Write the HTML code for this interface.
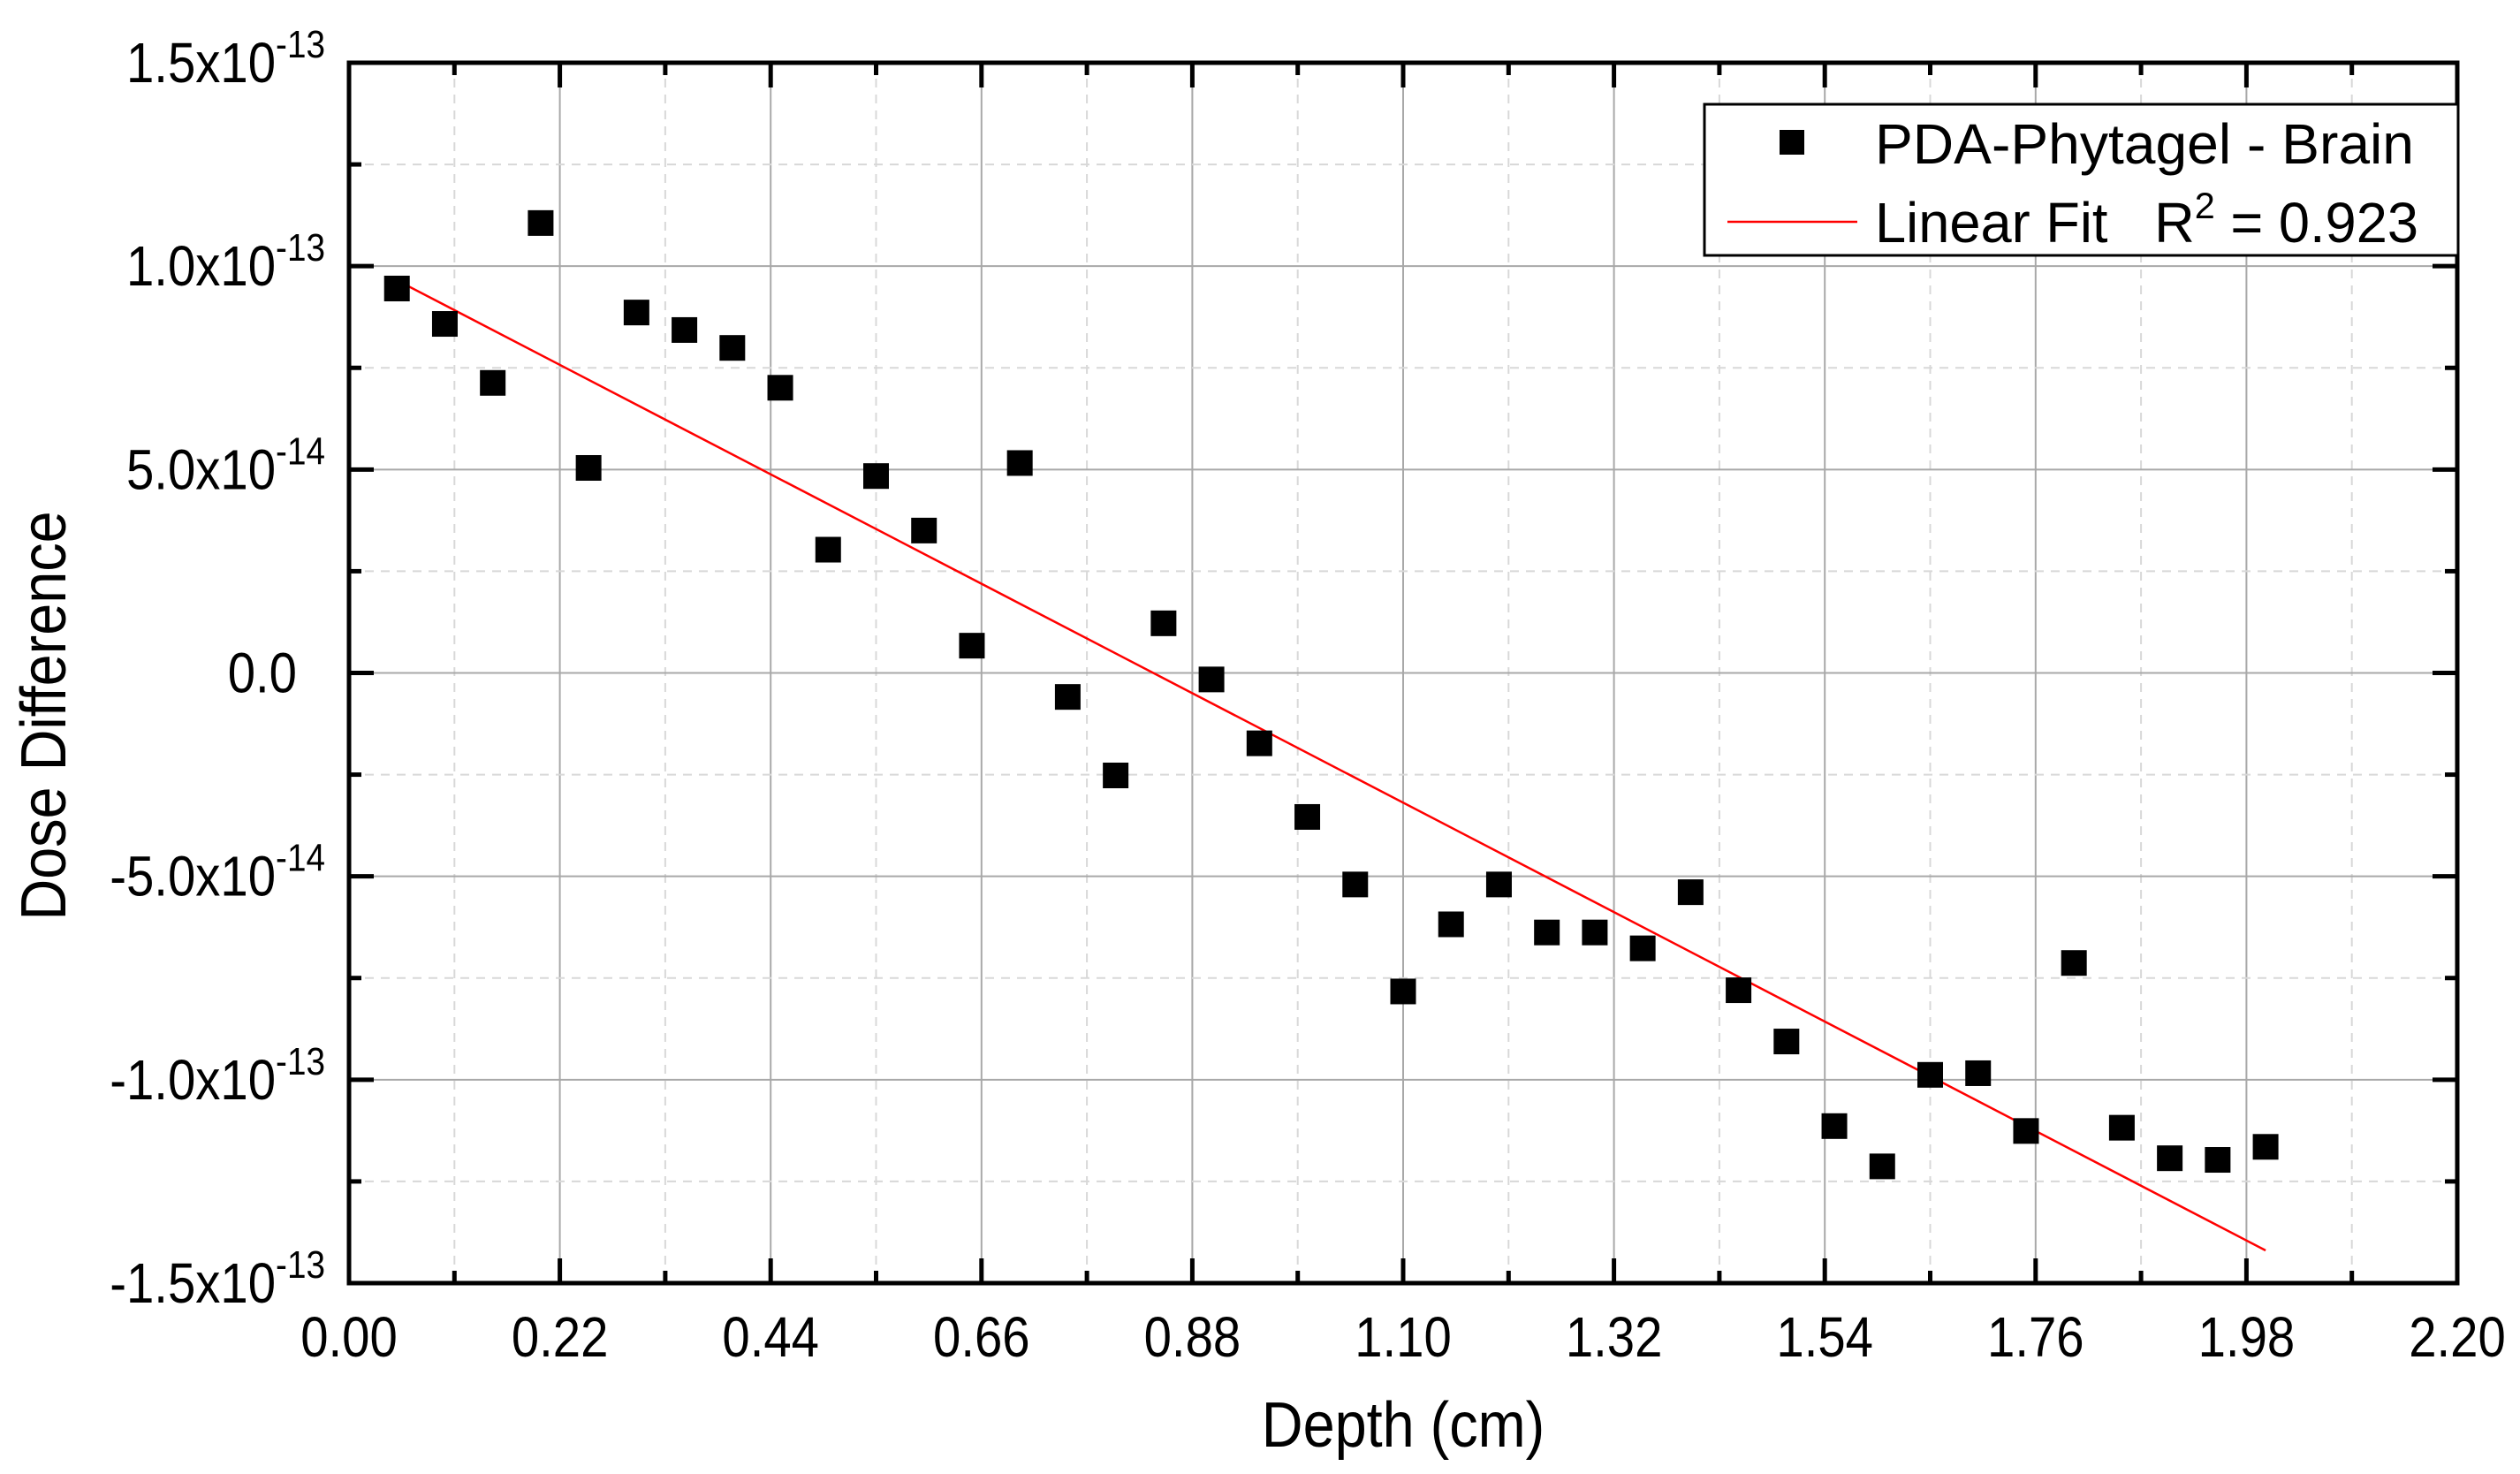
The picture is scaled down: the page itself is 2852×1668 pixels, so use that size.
<!DOCTYPE html>
<html><head><meta charset="utf-8"><style>
html,body{margin:0;padding:0;background:#fff;}
svg{display:block;font-family:"Liberation Sans",Arial,sans-serif;}
</style></head><body>
<svg id="chart" width="2852" height="1668" viewBox="0 0 2852 1668" xmlns="http://www.w3.org/2000/svg">
<rect x="0" y="0" width="2852" height="1668" fill="#fff"/>
<g id="grid"></g>
<g id="fit"></g>
<g id="pts"></g>
<g id="axes"></g>
<g id="labels"></g>
<text transform="translate(1588,1637) scale(0.9,1)" font-size="72" text-anchor="middle">Depth (cm)</text>
<text transform="translate(74,810) rotate(-90) scale(0.9,1)" font-size="72" text-anchor="middle">Dose Difference</text>
<g>
<rect x="1929" y="118" width="853" height="171" fill="#fff" stroke="#000" stroke-width="3"/>
<rect x="2014" y="147" width="28" height="28" fill="#000"/>
<text x="2122" y="185" font-size="64" textLength="610" lengthAdjust="spacingAndGlyphs">PDA-Phytagel - Brain</text>
<line x1="1955" y1="251" x2="2102" y2="251" stroke="#f00" stroke-width="2.5"/>
<text x="2122" y="274" font-size="64" textLength="615" lengthAdjust="spacingAndGlyphs">Linear Fit&#160;&#160;&#160;R<tspan font-size="42" dy="-27">2</tspan><tspan dy="27"> = 0.923</tspan></text>
</g>
</svg>
<script>
const depths=[0.05,0.10,0.15,0.20,0.25,0.30,0.35,0.40,0.45,0.50,0.55,0.60,0.65,0.70,0.75,0.80,0.85,0.90,0.95,1.00,1.05,1.10,1.15,1.20,1.25,1.30,1.35,1.40,1.45,1.50,1.55,1.60,1.65,1.70,1.75,1.80,1.85,1.90,1.95,2.00];
const doseDiff=[0.945,0.858,0.713,1.106,0.504,0.886,0.843,0.799,0.701,0.303,0.484,0.350,0.067,0.516,-0.059,-0.252,0.122,-0.016,-0.173,-0.354,-0.520,-0.783,-0.618,-0.520,-0.638,-0.638,-0.677,-0.539,-0.780,-0.906,-1.114,-1.213,-0.988,-0.984,-1.126,-0.713,-1.118,-1.193,-1.197,-1.165];
const xTicks=[0,0.22,0.44,0.66,0.88,1.10,1.32,1.54,1.76,1.98,2.20];
const xTickLabels=["0.00","0.22","0.44","0.66","0.88","1.10","1.32","1.54","1.76","1.98","2.20"];
const yTicks=[1.5,1.0,0.5,0,-0.5,-1.0,-1.5];
const yTickBase=["1.5x10","1.0x10","5.0x10","0.0","-5.0x10","-1.0x10","-1.5x10"];
const yTickExp=["-13","-13","-14","","-14","-13","-13"];

const L=395,R=2781,T=71,B=1452;
const xMin=0,xMax=2.2,yMin=-1.5,yMax=1.5;
const X=v=>L+(v-xMin)/(xMax-xMin)*(R-L);
const Y=v=>B-(v-yMin)/(yMax-yMin)*(B-T);
const NS="http://www.w3.org/2000/svg";
function mk(tag,parent,attrs){const e=document.createElementNS(NS,tag);for(const k in attrs)e.setAttribute(k,attrs[k]);parent.appendChild(e);return e;}
const grid=document.getElementById('grid'),axes=document.getElementById('axes'),labels=document.getElementById('labels'),pts=document.getElementById('pts'),fit=document.getElementById('fit');

for(let i=0;i<xTicks.length;i++){
  const x=X(xTicks[i]);
  if(i>0&&i<xTicks.length-1){const g=mk('line',grid,{x1:x,y1:T,x2:x,y2:B,stroke:'#a8a8a8','stroke-width':2});
  
  }
  if(i<xTicks.length-1){const xm=X((xTicks[i]+xTicks[i+1])/2);
    const g2=mk('line',grid,{x1:xm,y1:T,x2:xm,y2:B,stroke:'#d8d8d8','stroke-width':2,'stroke-dasharray':'10,8'});
    
    
    mk('line',axes,{x1:xm,y1:B,x2:xm,y2:B-14,stroke:'#000','stroke-width':5});
    mk('line',axes,{x1:xm,y1:T,x2:xm,y2:T+14,stroke:'#000','stroke-width':5});}
  mk('line',axes,{x1:x,y1:B,x2:x,y2:B-28,stroke:'#000','stroke-width':5});
  mk('line',axes,{x1:x,y1:T,x2:x,y2:T+28,stroke:'#000','stroke-width':5});
  const t=mk('text',labels,{transform:'translate('+x+',1535) scale(0.88,1)','font-size':64,'text-anchor':'middle'});
  
  
  t.textContent=xTickLabels[i];
}
for(let i=0;i<yTicks.length;i++){
  const y=Y(yTicks[i]);
  if(i>0&&i<yTicks.length-1){const g=mk('line',grid,{x1:L,y1:y,x2:R,y2:y,stroke:'#a8a8a8','stroke-width':2});
  
  }
  if(i<yTicks.length-1){const ym=Y((yTicks[i]+yTicks[i+1])/2);
    const g2=mk('line',grid,{x1:L,y1:ym,x2:R,y2:ym,stroke:'#d8d8d8','stroke-width':2,'stroke-dasharray':'10,8'});
    
    
    mk('line',axes,{x1:L,y1:ym,x2:L+14,y2:ym,stroke:'#000','stroke-width':5});
    mk('line',axes,{x1:R,y1:ym,x2:R-14,y2:ym,stroke:'#000','stroke-width':5});}
  mk('line',axes,{x1:L,y1:y,x2:L+28,y2:y,stroke:'#000','stroke-width':5});
  mk('line',axes,{x1:R,y1:y,x2:R-28,y2:y,stroke:'#000','stroke-width':5});
  const ax=yTickExp[i]?368:336;
  const t=mk('text',labels,{transform:'translate('+ax+','+(y+22)+') scale(0.88,1)','font-size':64,'text-anchor':'end'});
  
  
  if(yTickExp[i]){
    t.appendChild(document.createTextNode(yTickBase[i]));
    const s=mk('tspan',t,{'font-size':44,dy:-28});s.textContent=yTickExp[i];
  } else { t.textContent=yTickBase[i]; }
}
const frame=mk('rect',axes,{x:L,y:T,width:R-L,height:B-T,fill:'none',stroke:'#000','stroke-width':5});



const n=depths.length;let sx=0,sy=0,sxx=0,sxy=0;
for(let i=0;i<n;i++){sx+=depths[i];sy+=doseDiff[i];sxx+=depths[i]*depths[i];sxy+=depths[i]*doseDiff[i];}
const slope=(n*sxy-sx*sy)/(n*sxx-sx*sx),icpt=(sy-slope*sx)/n;
const x0=depths[0],x1=depths[n-1];
const fl=mk('line',fit,{x1:X(x0),y1:Y(icpt+slope*x0),x2:X(x1),y2:Y(icpt+slope*x1),stroke:'#f00','stroke-width':2.5});



for(let i=0;i<n;i++){
  const r=mk('rect',pts,{x:X(depths[i])-14.5,y:Y(doseDiff[i])-14.5,width:29,height:29,fill:'#000'});
  
  
}
</script>
</body></html>
